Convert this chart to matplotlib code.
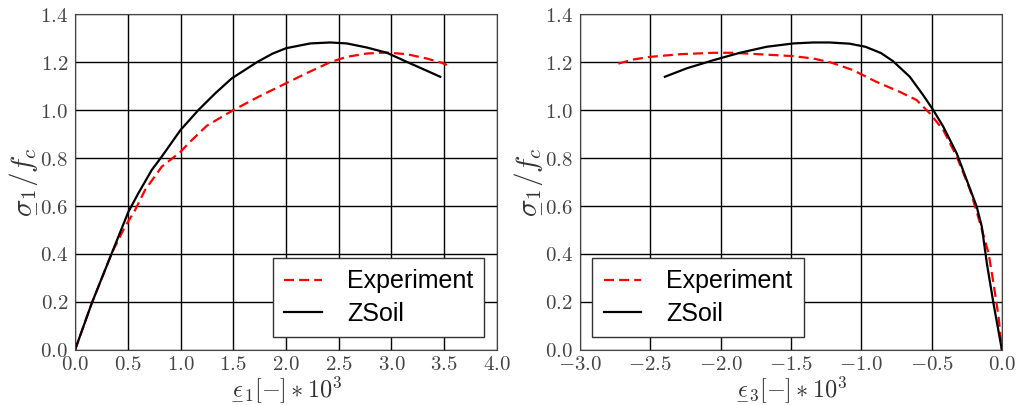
import matplotlib
matplotlib.use("Agg")
import matplotlib.pyplot as plt
from matplotlib.ticker import FuncFormatter, MultipleLocator

# axial strain eps1 (x1e3) vs sigma1/fc
EXP1_X = [0.0, 0.158, 0.348, 0.379, 0.474, 0.569, 0.664, 0.822, 1.0, 1.074,
          1.25, 1.5, 1.75, 2.0, 2.2, 2.42, 2.576, 2.766, 2.956, 3.146, 3.335,
          3.478, 3.525]
EXP1_Y = [0.0, 0.194, 0.403, 0.431, 0.514, 0.583, 0.667, 0.764, 0.826, 0.861,
          0.935, 1.0, 1.058, 1.112, 1.155, 1.2, 1.222, 1.236, 1.24, 1.233,
          1.215, 1.197, 1.188]
ZS1_X = [0.0, 0.158, 0.348, 0.411, 0.506, 0.600, 0.727, 0.822, 1.0, 1.169,
         1.327, 1.485, 1.725, 1.87, 2.0, 2.23, 2.418, 2.576, 2.766, 2.956,
         3.146, 3.335, 3.462]
ZS1_Y = [0.0, 0.194, 0.403, 0.472, 0.576, 0.653, 0.75, 0.806, 0.917, 1.0,
         1.069, 1.132, 1.2, 1.235, 1.258, 1.278, 1.282, 1.278, 1.261, 1.239,
         1.201, 1.164, 1.139]

# lateral strain eps3 (x1e3) vs sigma1/fc
EXP3_X = [-2.727, -2.621, -2.502, -2.289, -2.052, -1.91, -1.697, -1.483,
          -1.341, -1.213, -1.06, -0.893, -0.726, -0.607, -0.512, -0.417,
          -0.321, -0.226, -0.155, -0.095, -0.06, -0.024, 0.0]
EXP3_Y = [1.194, 1.211, 1.222, 1.233, 1.239, 1.239, 1.232, 1.225, 1.215,
          1.198, 1.167, 1.118, 1.076, 1.042, 0.986, 0.917, 0.806, 0.667,
          0.528, 0.403, 0.278, 0.139, 0.0]
ZS3_X = [-2.396, -2.242, -2.052, -1.863, -1.673, -1.483, -1.341, -1.226,
         -1.083, -0.97, -0.86, -0.774, -0.655, -0.56, -0.488, -0.417, -0.321,
         -0.25, -0.179, -0.143, -0.107, -0.06, 0.0]
ZS3_Y = [1.139, 1.174, 1.208, 1.239, 1.264, 1.278, 1.282, 1.282, 1.277,
         1.264, 1.238, 1.204, 1.139, 1.0625, 1.0, 0.931, 0.819, 0.708, 0.597,
         0.514, 0.361, 0.194, 0.0]

plt.rcParams.update({"mathtext.fontset": "cm", "font.family": "Liberation Sans"})

fig = plt.figure(figsize=(10.18, 4.05), dpi=100)
ax1 = fig.add_axes([0.0737, 0.136, 0.4145, 0.829])
ax2 = fig.add_axes([0.5697, 0.136, 0.4145, 0.829])

fmt = FuncFormatter(lambda v, p: f"${v:.1f}$")


def panel(ax, ex, ey, zx, zy, xlim, xlabel, loc):
    ax.plot(ex, ey, "--", color="red", lw=1.6, dashes=(4.5, 2.3),
            label="Experiment")
    ax.plot(zx, zy, "-", color="black", lw=1.6, label="ZSoil")
    ax.set_xlim(*xlim)
    ax.set_ylim(0, 1.4)
    ax.xaxis.set_major_locator(MultipleLocator(0.5))
    ax.yaxis.set_major_locator(MultipleLocator(0.2))
    ax.xaxis.set_major_formatter(fmt)
    ax.yaxis.set_major_formatter(fmt)
    ax.tick_params(labelsize=15, direction="in", length=0, pad=5,
                   colors="#333333", labelcolor="#444444")
    ax.tick_params(axis="x", pad=4)
    ax.grid(True, color="black", lw=1.0, ls="-")
    for s in ax.spines.values():
        s.set_color("#444444")
    ax.set_xlabel(xlabel, fontsize=17.5, labelpad=0, color="#333333")
    ax.set_ylabel(r"$\underset{-}{\sigma}_1/f_c$", fontsize=21, labelpad=2,
                  color="#333333")
    leg = ax.legend(loc=loc, fontsize=18, handlelength=1.5, handletextpad=1.0,
                    borderpad=0.45, labelspacing=0.35, fancybox=False,
                    framealpha=1, edgecolor="#333333", borderaxespad=0.5)
    leg.get_frame().set_linewidth(1.0)


panel(ax1, EXP1_X, EXP1_Y, ZS1_X, ZS1_Y, (0, 4.0),
      r"$\underset{-}{\epsilon}_1[-]*10^3$", "lower right")
panel(ax2, EXP3_X, EXP3_Y, ZS3_X, ZS3_Y, (-3.0, 0),
      r"$\underset{-}{\epsilon}_3[-]*10^3$", "lower left")

fig.savefig("out.png")
